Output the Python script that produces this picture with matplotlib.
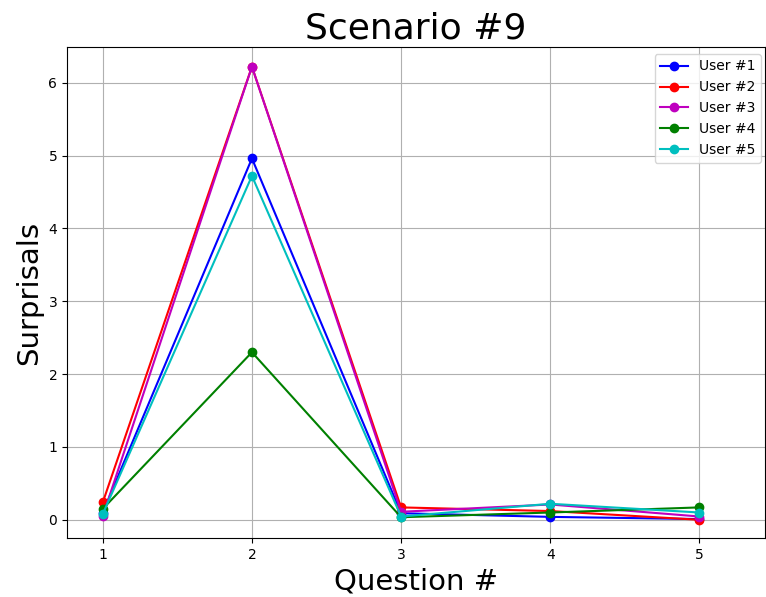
import matplotlib
matplotlib.use("Agg")
import matplotlib.pyplot as plt

questions = [1, 2, 3, 4, 5]
user1 = [0.10, 4.96, 0.09, 0.04, 0.01]
user2 = [0.24, 6.22, 0.17, 0.12, 0.00]
user3 = [0.05, 6.22, 0.11, 0.21, 0.045]
user4 = [0.15, 2.30, 0.035, 0.10, 0.17]
user5 = [0.08, 4.72, 0.045, 0.22, 0.10]
series = [("User #1", user1, "b"), ("User #2", user2, "r"), ("User #3", user3, "m"),
          ("User #4", user4, "g"), ("User #5", user5, "c")]

fig = plt.figure(figsize=(7.66, 5.97), dpi=100)
ax = fig.add_axes([67/766, 1-538/597, (765-67)/766, (538-47)/597])
for name, vals, c in series:
    ax.plot(questions, vals, marker="o", color=c, label=name)
ax.set_title("Scenario #9", fontsize=26)
ax.set_xlabel("Question #", fontsize=21)
ax.set_ylabel("Surprisals", fontsize=21)
ax.set_xticks(questions)
ax.set_xlim(0.76, 5.44)
ax.set_ylim(-0.25, 6.49)
ax.grid(True)
ax.legend(loc="upper left", bbox_to_anchor=(0.842, 0.986), borderaxespad=0, fontsize=10)
fig.savefig("out.png", dpi=100)
